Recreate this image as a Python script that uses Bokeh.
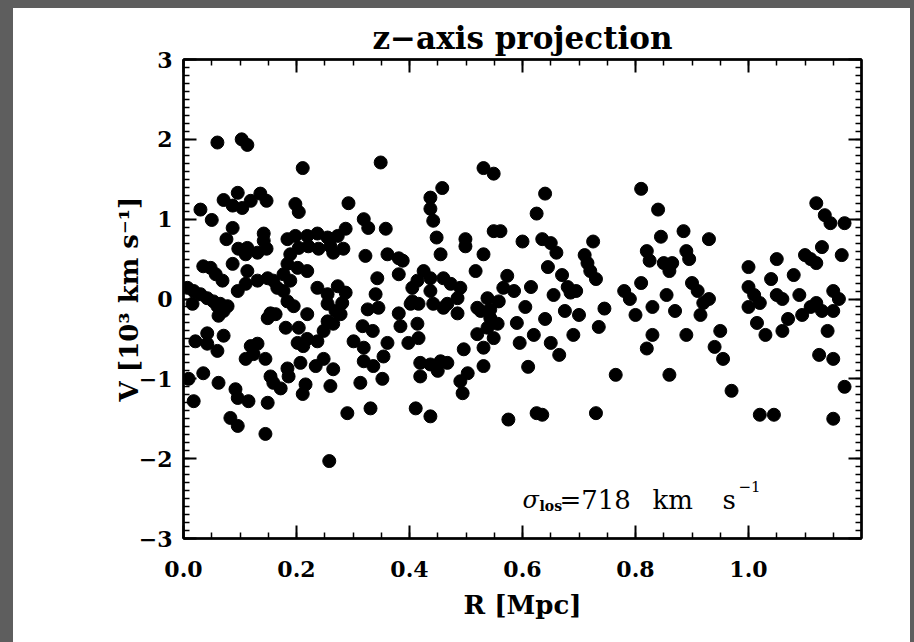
from bokeh.plotting import figure
from bokeh.models import (ColumnDataSource, LinearAxis, SingleIntervalTicker, PrintfTickFormatter,
                          CustomJSTickFormatter, CustomLabelingPolicy, Label, Range1d, Spacer)
from bokeh.layouts import row, column
from bokeh.embed import file_html
from bokeh.resources import INLINE

# ---- data: projected radius R [Mpc] and line-of-sight velocity V [10^3 km/s] ----
r_a = [0.060, 0.103, 0.113, 0.211, 0.030, 0.050, 0.071, 0.096, 0.087, 0.104, 0.119, 0.136, 0.147,
       0.198, 0.204, 0.087, 0.076, 0.142, 0.142, 0.147, 0.097, 0.113, 0.131, 0.110, 0.184, 0.198,
       0.219, 0.237, 0.255, 0.273, 0.204, 0.221, 0.239, 0.260, 0.035, 0.048, 0.057, 0.069, 0.087,
       0.113, 0.189, 0.184, 0.177, 0.189, 0.202, 0.219, 0.007, 0.018, 0.030, 0.042, 0.053, 0.065,
       0.078, 0.096, 0.110, 0.131, 0.149, 0.159, 0.166, 0.177, 0.184, 0.195, 0.237, 0.255, 0.273,
       0.016, 0.154, 0.163, 0.219, 0.255, 0.269]
v_a = [1.96, 2.00, 1.93, 1.64, 1.12, 0.99, 1.24, 1.33, 1.17, 1.14, 1.23, 1.32, 1.23,
       1.19, 1.09, 0.89, 0.75, 0.82, 0.73, 0.63, 0.63, 0.64, 0.58, 0.56, 0.75, 0.79,
       0.79, 0.82, 0.77, 0.79, 0.64, 0.66, 0.63, 0.66, 0.41, 0.39, 0.31, 0.23, 0.44,
       0.35, 0.56, 0.44, 0.31, 0.23, 0.39, 0.35, 0.14, 0.10, 0.06, 0.01, -0.03, -0.06,
       -0.09, 0.10, 0.19, 0.23, 0.26, 0.23, 0.14, 0.10, -0.03, -0.09, 0.14, 0.06, 0.16,
       -0.06, -0.18, -0.19, -0.19, -0.06, -0.15]

r_b = [0.060, 0.071, 0.062, 0.149, 0.255, 0.248, 0.265, 0.181, 0.204, 0.042, 0.071, 0.021, 0.042,
       0.060, 0.202, 0.219, 0.237, 0.212, 0.119, 0.131, 0.110, 0.124, 0.145, 0.207, 0.234, 0.248,
       0.265, 0.184, 0.186, 0.154, 0.159, 0.172, 0.035, 0.009, 0.062, 0.092, 0.096, 0.115, 0.216,
       0.211, 0.260, 0.018, 0.149, 0.083, 0.096, 0.145, 0.258]
v_b = [-0.09, -0.15, -0.21, -0.24, -0.28, -0.40, -0.31, -0.36, -0.36, -0.43, -0.46, -0.53, -0.56,
       -0.65, -0.55, -0.50, -0.53, -0.59, -0.59, -0.56, -0.75, -0.69, -0.75, -0.80, -0.84, -0.75,
       -0.88, -0.87, -0.97, -0.97, -1.05, -1.12, -0.93, -1.00, -1.05, -1.13, -1.24, -1.28, -1.07,
       -1.19, -1.09, -1.28, -1.30, -1.49, -1.59, -1.69, -2.03]

r_c = [0.349, 0.531, 0.549, 0.458, 0.437, 0.437, 0.442, 0.292, 0.319, 0.327, 0.287, 0.358, 0.549,
       0.561, 0.448, 0.499, 0.499, 0.283, 0.265, 0.322, 0.361, 0.381, 0.388, 0.455, 0.531, 0.517,
       0.343, 0.381, 0.425, 0.414, 0.437, 0.460, 0.473, 0.287, 0.340, 0.405, 0.405, 0.437, 0.490,
       0.485, 0.573, 0.566, 0.538, 0.558, 0.281, 0.326, 0.345, 0.381, 0.416, 0.460, 0.485, 0.520,
       0.543]
v_c = [1.71, 1.64, 1.57, 1.39, 1.27, 1.13, 0.98, 1.20, 1.00, 0.89, 0.88, 0.88, 0.85,
       0.85, 0.77, 0.75, 0.66, 0.63, 0.58, 0.54, 0.56, 0.51, 0.48, 0.56, 0.56, 0.35,
       0.26, 0.31, 0.35, 0.23, 0.26, 0.26, 0.19, 0.08, 0.06, 0.14, -0.03, 0.10, 0.14,
       0.01, 0.29, 0.14, 0.01, -0.03, -0.05, -0.13, -0.11, -0.18, -0.06, -0.11, -0.18, -0.11,
       -0.13]

r_d = [0.278, 0.414, 0.384, 0.402, 0.442, 0.467, 0.526, 0.543, 0.538, 0.556, 0.520, 0.549, 0.317,
       0.335, 0.301, 0.319, 0.361, 0.354, 0.398, 0.416, 0.496, 0.531, 0.319, 0.336, 0.419, 0.437,
       0.455, 0.467, 0.419, 0.450, 0.531, 0.503, 0.490, 0.494, 0.313, 0.352, 0.290, 0.331, 0.411,
       0.437, 0.575]
v_d = [-0.19, -0.31, -0.34, -0.06, -0.06, -0.06, -0.15, -0.24, -0.36, -0.31, -0.44, -0.49, -0.34,
       -0.40, -0.53, -0.61, -0.55, -0.72, -0.55, -0.49, -0.63, -0.61, -0.78, -0.84, -0.80, -0.82,
       -0.78, -0.80, -0.97, -0.90, -0.84, -0.93, -1.03, -1.18, -1.05, -1.00, -1.43, -1.37, -1.37,
       -1.47, -1.51]

r_e = [0.585, 0.590, 0.595, 0.600, 0.605, 0.610, 0.615, 0.620, 0.625, 0.625, 0.635, 0.635, 0.640,
       0.640, 0.645, 0.650, 0.650, 0.655, 0.660, 0.665, 0.670, 0.675, 0.680, 0.685, 0.690, 0.695,
       0.700, 0.710, 0.715, 0.720, 0.725, 0.730, 0.735, 0.730, 0.745, 0.765, 0.780, 0.790, 0.800,
       0.810, 0.810, 0.820, 0.825, 0.830, 0.830, 0.820, 0.840, 0.845, 0.850, 0.860, 0.865, 0.855,
       0.870, 0.860, 0.885, 0.890, 0.895, 0.900, 0.890, 0.910, 0.920, 0.930, 0.915, 0.930, 0.940,
       0.950, 0.955, 0.970, 1.000, 1.000, 1.000, 1.010, 1.020, 1.015, 1.030, 1.020, 1.045, 1.040,
       1.050, 1.050, 1.060, 1.060, 1.070, 1.080, 1.090, 1.095, 1.100, 1.110, 1.120, 1.120, 1.135,
       1.145, 1.130, 1.110, 1.120, 1.130, 1.125, 1.140, 1.150, 1.150, 1.160, 1.150, 1.150, 1.170,
       1.170, 1.165]
v_e = [0.10, -0.30, -0.55, 0.72, -0.10, -0.85, 0.15, -0.45, 1.07, -1.43, -1.45, 0.75, 1.32,
       -0.25, 0.40, 0.70, -0.55, 0.05, 0.58, -0.70, 0.30, -0.15, 0.15, 0.08, -0.45, 0.10,
       -0.20, 0.55, 0.45, 0.35, 0.72, 0.25, -0.35, -1.43, -0.12, -0.95, 0.10, 0.00, -0.20,
       0.20, 1.38, 0.60, 0.48, -0.10, -0.45, -0.62, 1.12, 0.78, 0.45, 0.35, 0.45, 0.05,
       -0.15, -0.95, 0.85, 0.60, 0.50, 0.20, -0.45, 0.10, -0.05, 0.00, -0.20, 0.75, -0.60,
       -0.40, -0.75, -1.15, 0.40, 0.15, -0.10, 0.05, -0.05, -0.30, -0.45, -1.45, -1.45, 0.25,
       0.50, 0.05, 0.00, -0.40, -0.25, 0.30, 0.05, -0.20, 0.55, 0.50, 0.45, 1.20, 1.05,
       0.95, 0.65, -0.10, -0.05, -0.15, -0.70, -0.40, -0.15, 0.10, 0.00, -0.75, -1.50, -1.10,
       0.95, 0.55]

x_ticks_interval = 0.2
y_ticks_interval = 1.0
title_text = "z\u2212axis projection"
x_label = "R [Mpc]"
y_label = "V [10\u00b3 km s\u207b\u00b9]"
sigma_los = 718

r_all = r_a + r_b + r_c + r_d + r_e
v_all = v_a + v_b + v_c + v_d + v_e
assert len(r_all) == len(v_all)

src = ColumnDataSource(data=dict(r=r_all, v=v_all))

FONT = "DejaVu Serif"
GREY = "#5e5e5e"

p = figure(width=897, height=634, output_backend="svg", toolbar_location=None,
           x_range=Range1d(0, 1.2), y_range=Range1d(-3, 3),
           x_axis_location=None, y_axis_location=None,
           min_border_left=170, min_border_right=49, min_border_top=51, min_border_bottom=104)
p.background_fill_color = "white"
p.border_fill_color = "white"
p.outline_line_color = "black"
p.outline_line_width = 2
p.xgrid.visible = False
p.ygrid.visible = False

p.title.text = title_text
p.title.align = "center"
p.title.text_font = FONT
p.title.text_font_size = "31px"
p.title.text_font_style = "bold"
p.title.text_color = "black"
p.title.standoff = 0

hide_all = CustomLabelingPolicy(code="""
for (let i = 0; i < indices.size; i++) { indices.unset(i) }
return indices
""")


def style_axis(ax, labels):
    ax.axis_line_width = 2.5
    ax.axis_line_color = "black"
    ax.major_tick_line_width = 2
    ax.minor_tick_line_width = 1.5
    ax.major_tick_line_color = "black"
    ax.minor_tick_line_color = "black"
    ax.major_tick_in = 13
    ax.major_tick_out = 0
    ax.minor_tick_in = 6
    ax.minor_tick_out = 0
    ax.major_label_text_font = FONT
    ax.major_label_text_font_style = "bold"
    ax.major_label_text_color = "black"
    ax.major_label_text_font_size = "22px"
    ax.axis_label_text_font = FONT
    ax.axis_label_text_font_style = "bold"
    ax.axis_label_text_font_size = "26px"
    ax.axis_label_text_color = "black"
    if not labels:
        ax.major_label_policy = hide_all
        ax.major_label_standoff = 0
        ax.major_label_text_font_size = "1px"


def xt():
    return SingleIntervalTicker(interval=x_ticks_interval, num_minor_ticks=4)


def yt():
    return SingleIntervalTicker(interval=y_ticks_interval, num_minor_ticks=10)


minus_fmt = "return (tick < 0 ? '\u2212' : '') + Math.abs(tick).toFixed(0);"

xb = LinearAxis(ticker=xt(), formatter=PrintfTickFormatter(format="%.1f"), axis_label=x_label)
style_axis(xb, True)
xb.major_label_standoff = 22
xb.axis_label_standoff = 10
p.add_layout(xb, "below")

xa = LinearAxis(ticker=xt())
style_axis(xa, False)
p.add_layout(xa, "above")

yl = LinearAxis(ticker=yt(), formatter=CustomJSTickFormatter(code=minus_fmt), axis_label=y_label)
style_axis(yl, True)
yl.major_label_standoff = 11
yl.axis_label_standoff = -8
p.add_layout(yl, "left")

yr = LinearAxis(ticker=yt())
style_axis(yr, False)
p.add_layout(yr, "right")

p.scatter("r", "v", source=src, size=13, marker="circle",
          fill_color="black", line_color="black")

# sigma_los annotation
ax0, ay0 = 0.60, -2.52
parts = [
    ("\u03c3", 0, 0, "24px", "italic"),
    ("los", 17, -6, "14px", "bold"),
    ("=%d" % sigma_los, 37, 0, "26px", "normal"),
    ("km", 130, 0, "26px", "normal"),
    ("s", 200, 0, "26px", "normal"),
    ("\u22121", 216, 14, "15px", "normal"),
]
for txt, dx, dy, fs, st in parts:
    p.add_layout(Label(x=ax0, y=ay0, x_offset=dx, y_offset=dy, text=txt,
                       text_font=FONT, text_font_size=fs, text_font_style=st,
                       text_color="black", text_baseline="alphabetic"))

# grey photo border around the figure
top_bar = Spacer(width=914, height=8, styles={"background-color": GREY})
left_bar = Spacer(width=13, height=634, styles={"background-color": GREY})
right_bar = Spacer(width=4, height=634, styles={"background-color": GREY})
layout = column(top_bar, row(left_bar, p, right_bar, spacing=0), spacing=0)

open("out.html", "w", encoding="utf-8").write(file_html(layout, INLINE))
